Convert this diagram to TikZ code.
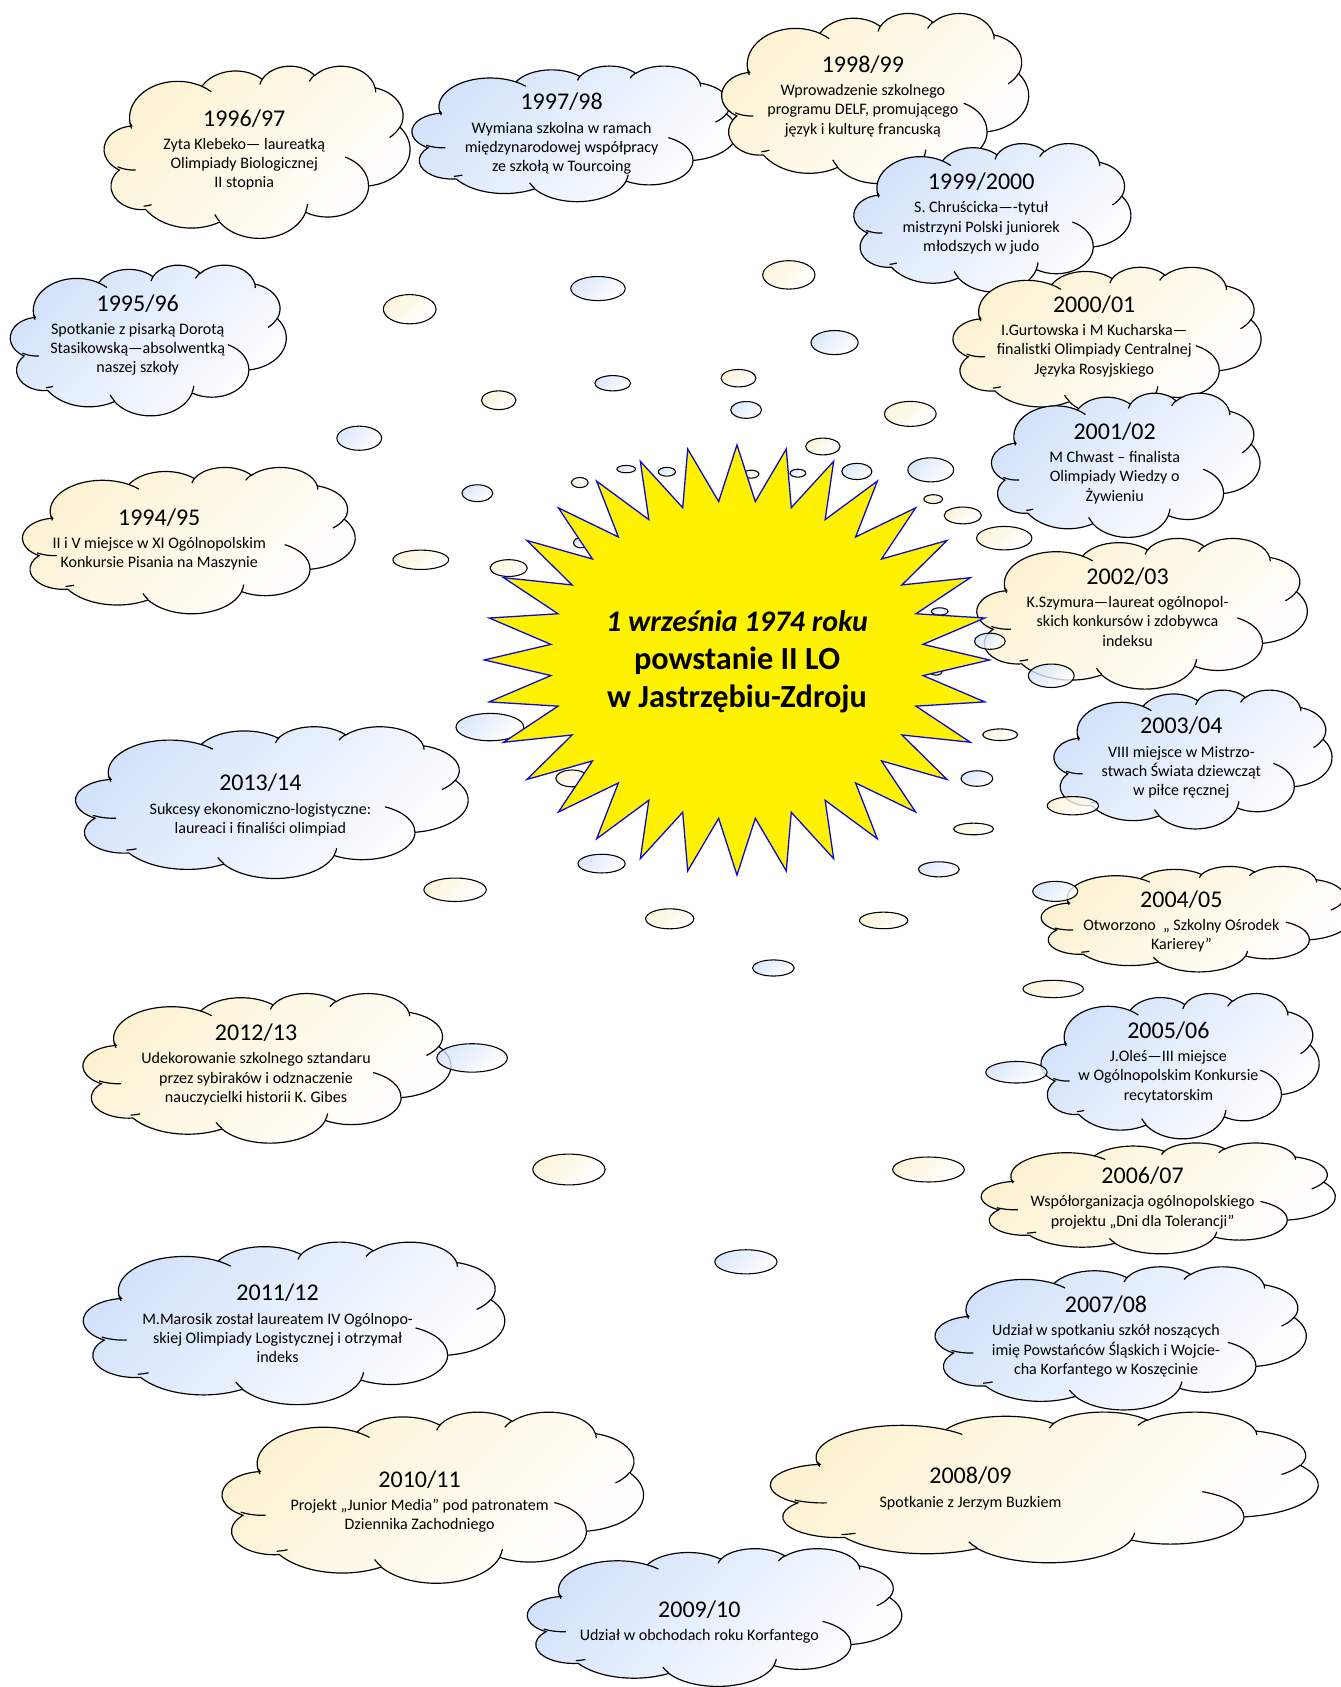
\documentclass[tikz,border=0pt]{standalone}
\usepackage{fontspec}
\setmainfont{Carlito}
\definecolor{cloudblue}{RGB}{210,226,250}
\definecolor{cloudsand}{RGB}{252,242,210}
\definecolor{sunedge}{RGB}{10,10,210}
\tikzset{
  outline/.style={draw=black, line width=1.1pt},
  blue cloud/.style={outline, top color=cloudblue, bottom color=white, shading angle=45},
  sand cloud/.style={outline, top color=cloudsand, bottom color=white, shading angle=45},
  bubble/.style={draw=black, line width=1pt, top color=#1, bottom color=white,
    shading angle=45, fill opacity=0.8},
  sun/.style={fill=yellow, draw=sunedge, line width=1.2pt, line join=miter},
  note/.style={align=center, inner sep=0pt, anchor=north,
    font=\fontsize{14.9}{18}\selectfont}
}
% one arc of the cloud outline: x radius, y radius, start, sweep
\newcommand\wcarc[4]{arc[x radius=#1, y radius=#2,
  start angle={atan2(#1*sin(#3),#2*cos(#3))},
  delta angle={mod(atan2(#1*sin(#3+#4),#2*cos(#3+#4))-atan2(#1*sin(#3),#2*cos(#3))+720,360)}]}
% cloud in the box with corner (x,y), width, height, style
\newcommand\wcloud[5]{%
  \begin{scope}[shift={(#1,#2)}, x=#3pt, y=-#4pt]
    \path[#5] (0.0903,0.3326)
      \wcarc{0.15632}{0.21273}{-190.4875}{123.7805}
      \wcarc{0.12345}{0.16822}{-144.1024}{89.9452}
      \wcarc{0.10104}{0.13762}{-145.8079}{99.7230}
      \wcarc{0.11243}{0.15266}{-130.9861}{117.2417}
      \wcarc{0.12345}{0.16836}{-78.7089}{109.0269}
      \wcarc{0.15683}{0.21343}{-46.2673}{130.2690}
      \wcarc{0.13391}{0.18211}{0.6250}{114.0333}
      \wcarc{0.15630}{0.21331}{22.4516}{115.1726}
      \wcarc{0.17870}{0.24405}{66.2426}{71.2583}
      \wcarc{0.10093}{0.13699}{-274.9421}{146.7356}
      \wcarc{0.10058}{0.13762}{-246.8285}{152.5189} -- cycle;
    \draw[outline]
      (0.10863,0.60595) \wcarc{0.10058}{0.13762}{86.7420}{26.4295}
      (0.16037,0.80785) \wcarc{0.10093}{0.13699}{73.6105}{11.4475}
      (0.38144,0.90486) \wcarc{0.15630}{0.21331}{137.6242}{14.0811}
      (0.66729,0.80442) \wcarc{0.15630}{0.21331}{6.4533}{15.9984}
      (0.79002,0.53134) \wcarc{0.13391}{0.18211}{-70.2924}{70.9174}
      (0.96755,0.35542) \wcarc{0.12345}{0.16836}{30.3180}{27.7515}
      (0.88713,0.12560) \wcarc{0.11243}{0.15266}{-13.7443}{14.8589}
      (0.67310,0.09148) \wcarc{0.11243}{0.15266}{-149.1815}{18.1954}
      (0.51252,0.10926) \wcarc{0.10104}{0.13762}{-163.4943}{17.6864}
      (0.32407,0.12019) \wcarc{0.15632}{0.21273}{-66.7070}{12.3194}
      (0.09553,0.36549) \wcarc{0.15632}{0.21273}{157.6544}{11.8582};
  \end{scope}}
\newcommand\yr[1]{{\fontsize{22.3}{24}\selectfont #1}}

\begin{document}
\begin{tikzpicture}[x=1pt,y=-1pt]
\useasboundingbox (0,0) rectangle (1246,1568);
% clouds, year by year
\wcloud{19}{434}{311}{136}{sand cloud}
\wcloud{8}{246}{258}{140}{blue cloud}
\wcloud{95}{61}{286}{160}{sand cloud}
\wcloud{381}{61}{304}{126}{blue cloud}
\wcloud{669}{12}{287}{158}{sand cloud}
\wcloud{792}{133}{259}{138}{blue cloud}
\wcloud{884}{248}{288}{138}{sand cloud}
\wcloud{920}{365}{251}{134}{blue cloud}
\wcloud{906}{500}{309}{140}{sand cloud}
\wcloud{978}{641}{260}{129}{blue cloud}
\wcloud{966}{805}{290}{98}{sand cloud}
\wcloud{966}{923}{260}{135}{blue cloud}
\wcloud{910}{1062}{331}{103}{sand cloud}
\wcloud{867}{1177}{347}{133}{blue cloud}
\wcloud{713}{1312}{512}{140}{sand cloud}
\wcloud{488}{1439}{350}{128}{blue cloud}
\wcloud{204}{1312}{394}{159}{sand cloud}
\wcloud{75}{1154}{394}{151}{blue cloud}
\wcloud{75}{923}{344}{139}{sand cloud}
\wcloud{68}{675}{367}{141}{blue cloud}
% small bubbles
\foreach \bx/\by/\rx/\ry/\bc in {
  380.8/287.4/24.5/13.6/cloudsand, 555.8/268.2/25.3/11.2/cloudblue,
  733.2/255.5/24.3/13.2/cloudsand, 775.7/318.4/21.9/11.2/cloudblue,
  569.5/356.2/16.6/7.1/cloudblue, 686.4/351.5/16.2/8.1/cloudsand,
  463.5/372/16/8.7/cloudsand, 693.5/381/14.3/7.8/cloudblue,
  846.1/384.7/24/11.6/cloudsand, 333.9/407.3/20.8/11.2/cloudblue,
  764.8/415/16/7.8/cloudsand, 796.4/438.2/14/7.5/cloudblue,
  865.1/436.7/21.3/11.2/cloudblue, 582/436/8.7/3.4/cloudblue,
  619.8/438.5/8/4.1/cloudblue, 538.9/448.5/7.7/4.7/cloudsand,
  698.1/440.7/7.3/3.7/cloudsand, 741.6/439.8/7.3/3.7/cloudblue,
  443.7/458.4/14.3/7.8/cloudblue, 867.4/463.9/8.7/4.1/cloudsand,
  894.9/479.1/17.3/7.8/cloudsand, 933.4/500.2/25.7/10.9/cloudsand,
  391.1/520.3/25.9/9/cloudsand, 472.8/528/17.3/7.8/cloudsand,
  539.8/504.5/6.7/4.7/cloudblue, 873.4/568.3/7.7/3.4/cloudblue,
  920/596/14.3/7.5/cloudblue, 977.1/628.1/21.3/10.9/cloudblue,
  870/624/6/3.5/cloudblue, 929.6/682.9/16.2/5.4/cloudsand,
  908/723.6/14.8/7.2/cloudblue, 997.2/748.9/23.8/8.5/cloudsand,
  904.9/770.5/18.6/5.4/cloudsand, 872.6/808/19/7/cloudblue,
  980.8/828.5/20.9/9.3/cloudblue, 455.3/675.8/31.5/12.7/cloudblue,
  531.6/723.5/15/7.8/cloudsand, 559.1/802.7/21.9/8.7/cloudblue,
  423/827/29/10.9/cloudsand, 622.5/854/22.4/9.3/cloudsand,
  821.3/855.5/22.4/7.7/cloudsand, 718.8/899.7/19.4/7.5/cloudblue,
  978.9/919.2/28.1/8/cloudsand, 438.8/983.3/32.8/13.2/cloudblue,
  944.7/996.6/28.5/10/cloudblue, 528.8/1087/33.6/14.3/cloudsand,
  863/1087/33.3/11.6/cloudsand, 693.3/1172.8/28.9/11.2/cloudblue}
  \path[bubble=\bc] (\bx,\by) ellipse [x radius=\rx, y radius=\ry];
% the sun
\begin{scope}[shift={(685,613.4)}]
\draw[sun] (90:234.8 and 199.9)
  \foreach \k in {0,...,31}{ -- ({95.625+\k*11.25}:173.8 and 147.9)
    -- ({101.25+\k*11.25}:234.8 and 199.9) } -- cycle;
\end{scope}
\node[align=center, font=\bfseries\fontsize{30}{35.5}\selectfont] (founding) at (685,615)
  {{\itshape\fontsize{27.8}{35.5}\selectfont 1 września 1974 roku}\\powstanie II LO\\w Jastrzębiu-Zdroju};
% texts
\node[note] (t9495) at (148,472.5) {\yr{1994/95}\\[3.5pt]II i V miejsce w XI Ogólnopolskim\\Konkursie Pisania na Maszynie};
\node[note] (t9596) at (128,273.5) {\yr{1995/96}\\[3.5pt]Spotkanie z pisarką Dorotą\\Stasikowską—absolwentką\\naszej szkoły};
\node[note] (t9697) at (227,101.5) {\yr{1996/97}\\[3.5pt]Zyta Klebeko— laureatką\\Olimpiady Biologicznej\\II stopnia};
\node[note] (t9798) at (522,86.5) {\yr{1997/98}\\[3.5pt]Wymiana szkolna w ramach\\międzynarodowej współpracy\\ze szkołą w Tourcoing};
\node[note] (t9899) at (802,51.5) {\yr{1998/99}\\[3.5pt]Wprowadzenie szkolnego\\programu DELF, promującego\\język i kulturę francuską};
\node[note] (t9900) at (912,160.5) {\yr{1999/2000}\\[3.5pt]S. Chruścicka—-tytuł\\mistrzyni Polski juniorek\\młodszych w judo};
\node[note] (t0001) at (1017,274.5) {\yr{2000/01}\\[3.5pt]I.Gurtowska i M Kucharska—\\finalistki Olimpiady Centralnej\\Języka Rosyjskiego};
\node[note] (t0102) at (1036,392.5) {\yr{2001/02}\\[3.5pt]M Chwast – finalista\\Olimpiady Wiedzy o\\Żywieniu};
\node[note] (t0203) at (1048,527.5) {\yr{2002/03}\\[3.5pt]K.Szymura—laureat ogólnopol-\\skich konkursów i zdobywca\\indeksu};
\node[note] (t0304) at (1098,666.5) {\yr{2003/04}\\[3.5pt]VIII miejsce w Mistrzo-\\stwach Świata dziewcząt\\w piłce ręcznej};
\node[note] (t0405) at (1098,827.5) {\yr{2004/05}\\[3.5pt]Otworzono\ \ „ Szkolny Ośrodek\\Karierey”};
\node[note] (t0506) at (1086,949.5) {\yr{2005/06}\\[3.5pt]J.Oleś—III miejsce\\w Ogólnopolskim Konkursie\\recytatorskim};
\node[note] (t0607) at (1062,1084.5) {\yr{2006/07}\\[3.5pt]Współorganizacja ogólnopolskiego\\projektu „Dni dla Tolerancji”};
\node[note] (t0708) at (1028,1204.5) {\yr{2007/08}\\[3.5pt]Udział w spotkaniu szkół noszących\\imię Powstańców Śląskich i Wojcie-\\cha Korfantego w Koszęcinie};
\node[note] (t0809) at (902,1363.5) {\yr{2008/09}\\[3.5pt]Spotkanie z Jerzym Buzkiem};
\node[note] (t0910) at (650,1487.5) {\yr{2009/10}\\[3.5pt]Udział w obchodach roku Korfantego};
\node[note] (t1011) at (390,1366.5) {\yr{2010/11}\\[3.5pt]Projekt „Junior Media” pod patronatem\\Dziennika Zachodniego};
\node[note] (t1112) at (258,1193.5) {\yr{2011/12}\\[3.5pt]M.Marosik został laureatem IV Ogólnopo-\\skiej Olimpiady Logistycznej i otrzymał\\indeks};
\node[note] (t1213) at (238,951.5) {\yr{2012/13}\\[3.5pt]Udekorowanie szkolnego sztandaru\\przez sybiraków i odznaczenie\\nauczycielki historii K. Gibes};
\node[note] (t1314) at (242,719.5) {\yr{2013/14}\\[3.5pt]Sukcesy ekonomiczno-logistyczne:\\laureaci i finaliści olimpiad};
\end{tikzpicture}
\end{document}
